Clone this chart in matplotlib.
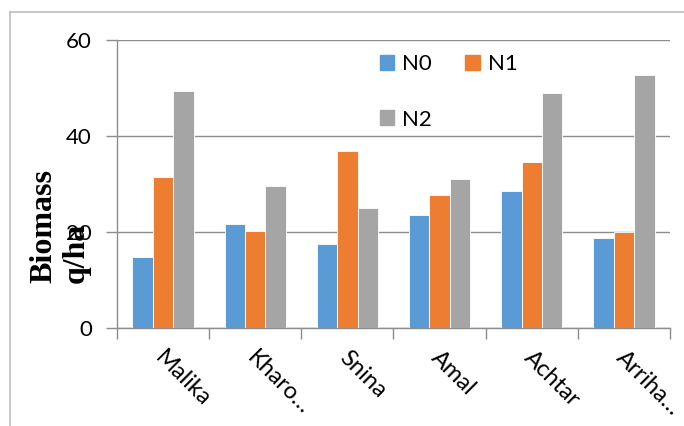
import matplotlib.pyplot as plt
import numpy as np
from matplotlib.lines import Line2D
from matplotlib.patches import Patch

varieties = ['Malika', 'Kharo…', 'Snina', 'Amal', 'Achtar', 'Arriha…']
n0 = [14.7, 21.7, 17.5, 23.5, 28.6, 18.7]
n1 = [31.4, 20.3, 36.9, 27.7, 34.6, 20.1]
n2 = [49.4, 29.6, 24.9, 31.0, 49.0, 52.7]
series = ['N0', 'N1', 'N2']
colors = ['#5B9BD5', '#ED7D31', '#A5A5A5']

plt.rcParams['font.family'] = ['Lato', 'DejaVu Sans']

fig = plt.figure(figsize=(6.84, 4.26), dpi=100)
ax = fig.add_axes([117 / 684, 98 / 426, 553 / 684, 288 / 426])

x = np.arange(len(varieties))
w = 1 / 4.5
for i, (vals, c) in enumerate(zip([n0, n1, n2], colors)):
    ax.bar(x + (i - 1) * w, vals, w, color=c, edgecolor='white',
           linewidth=0.6, zorder=3, label=series[i])

ax.set_xlim(-0.5, len(varieties) - 0.5)
ax.set_ylim(0, 60)
ax.set_yticks([0, 20, 40, 60])
ax.yaxis.grid(True, color='#8C8C8C', linewidth=1.0, zorder=0)

# category boundary ticks on the x axis, labels at the centres
ax.set_xticks(np.arange(-0.5, len(varieties)))
ax.set_xticklabels([])
ax.tick_params(axis='x', length=8, color='#8C8C8C', width=1)
for xi, name in zip(x, varieties):
    ax.text(xi - 0.05, -5.6, name, rotation=-45, rotation_mode='anchor',
            ha='left', va='center', fontsize=17, clip_on=False)

ax.tick_params(axis='y', length=8, color='#8C8C8C', width=1,
               labelsize=16, pad=10)

for side in ['top', 'right']:
    ax.spines[side].set_visible(False)
for side in ['left', 'bottom']:
    ax.spines[side].set_color('#8C8C8C')
    ax.spines[side].set_linewidth(1.0)

fig.text(0.088, (426 - 283) / 426, 'Biomass\nq/ha', rotation=90,
         ha='center', va='bottom', multialignment='left',
         fontsize=23, fontweight='bold', family='Liberation Serif',
         linespacing=1.15)

handles = [Patch(color=colors[0]), Patch(color=colors[2]), Patch(color=colors[1])]
labels = ['N0', 'N2', 'N1']
fig.legend(handles, labels, loc='upper left',
           bbox_to_anchor=(380 / 684, (426 - 54) / 426), ncol=2,
           frameon=False, fontsize=16, borderpad=0, borderaxespad=0,
           handlelength=0.65, handleheight=0.65, handletextpad=0.35,
           columnspacing=1.5, labelspacing=1.6)

# chart area border
fig.add_artist(Line2D([10 / 684, 1], [1 - 12 / 426, 1 - 12 / 426],
                      color='#BFBFBF', linewidth=1.2))
fig.add_artist(Line2D([10 / 684, 10 / 684], [0, 1 - 12 / 426],
                      color='#BFBFBF', linewidth=1.2))

fig.savefig('out.png', dpi=100)
